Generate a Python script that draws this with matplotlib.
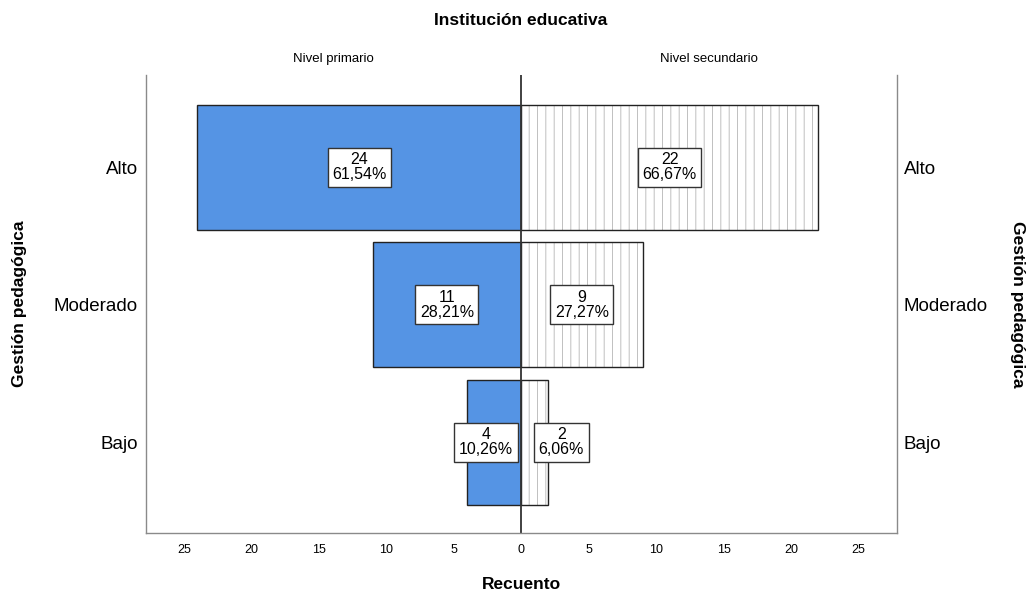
import matplotlib.pyplot as plt

plt.rcParams['font.family'] = ['Liberation Sans', 'DejaVu Sans']
plt.rcParams['hatch.linewidth'] = 0.6

categorias = ["Alto", "Moderado", "Bajo"]
primario = [24, 11, 4]
primario_pct = ["61,54%", "28,21%", "10,26%"]
secundario = [22, 9, 2]
secundario_pct = ["66,67%", "27,27%", "6,06%"]
ticks = [-25, -20, -15, -10, -5, 0, 5, 10, 15, 20, 25]

fig = plt.figure(figsize=(10.31, 5.91), dpi=100)
ax = fig.add_axes([0.1416, 0.0981, 0.7284, 0.7749])

pos = list(range(len(categorias)))
ax.barh(pos, [-v for v in primario], height=0.91, color='#5594e4',
        edgecolor='#222222', linewidth=1.0)
# relleno punteado (trama gris) y contorno oscuro por separado
ax.barh(pos, secundario, height=0.91, color='white', edgecolor='#b5b5b5',
        linewidth=0, hatch='||')
ax.barh(pos, secundario, height=0.91, fill=False, edgecolor='#222222',
        linewidth=1.0)

box = dict(boxstyle='square,pad=0.28', facecolor='white', edgecolor='#333333', linewidth=1.0)
for i, (v, p) in enumerate(zip(primario, primario_pct)):
    if v / 2 < 2.6:
        ax.text(-0.6, i, f"{v}\n{p}", ha='right', va='center', fontsize=11.5,
                bbox=box, linespacing=1.0, multialignment='center')
    else:
        ax.text(-v / 2, i, f"{v}\n{p}", ha='center', va='center', fontsize=11.5,
                bbox=box, linespacing=1.0)
for i, (v, p) in enumerate(zip(secundario, secundario_pct)):
    if v / 2 < 2.2:
        ax.text(1.3, i, f"{v}\n{p}", ha='left', va='center', fontsize=11.5,
                bbox=box, linespacing=1.0, multialignment='center')
    else:
        ax.text(v / 2, i, f"{v}\n{p}", ha='center', va='center', fontsize=11.5,
                bbox=box, linespacing=1.0)

ax.axvline(0, color='#333333', linewidth=1.3)
ax.set_xlim(-27.8, 27.85)
ax.set_ylim(2.66, -0.67)
ax.set_xticks(ticks)
ax.set_xticklabels([str(abs(t)) for t in ticks], fontsize=9)
ax.set_yticks(pos)
ax.set_yticklabels(categorias, fontsize=13.5)
ax.tick_params(axis='both', length=0, pad=8)
ax.tick_params(axis='y', pad=6)

ax.spines['top'].set_visible(False)
for s in ['left', 'right', 'bottom']:
    ax.spines[s].set_color('#8a8a8a')
    ax.spines[s].set_linewidth(1.0)

# etiquetas del lado derecho
ax2 = ax.twinx()
ax2.set_ylim(ax.get_ylim())
ax2.set_yticks(pos)
ax2.set_yticklabels(categorias, fontsize=13.5)
ax2.tick_params(axis='y', length=0, pad=5)
for s in ax2.spines.values():
    s.set_visible(False)

ax.set_xlabel("Recuento", fontsize=12.5, fontweight='bold', labelpad=15)
fig.text(0.019, 0.486, "Gestión pedagógica", rotation=90, ha='center', va='center',
         fontsize=12.5, fontweight='bold')
fig.text(0.987, 0.486, "Gestión pedagógica", rotation=270, ha='center', va='center',
         fontsize=12.5, fontweight='bold')
fig.text(0.505, 0.966, "Institución educativa", ha='center', va='center',
         fontsize=12.5, fontweight='bold')
fig.text(0.323, 0.9, "Nivel primario", ha='center', va='center', fontsize=9.5)
fig.text(0.688, 0.9, "Nivel secundario", ha='center', va='center', fontsize=9.5)

fig.savefig("out.png", dpi=100)
